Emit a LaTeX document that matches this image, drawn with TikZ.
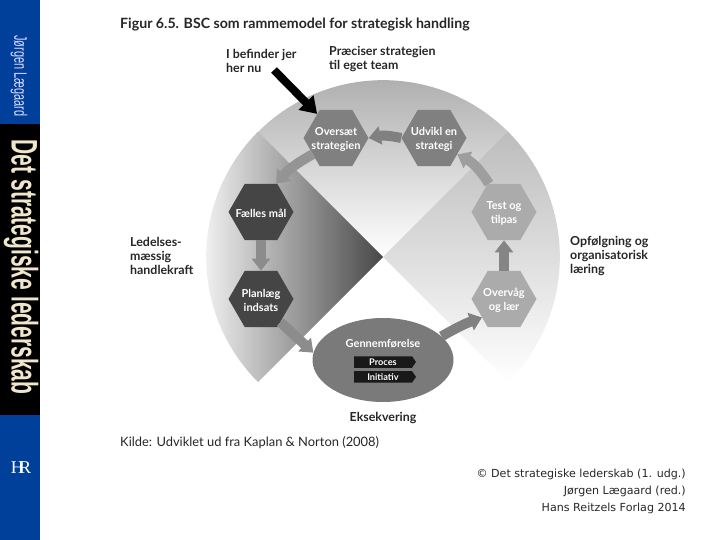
\documentclass[tikz,border=0pt]{standalone}
\usepackage{fontspec}
\setmainfont{Lato}
\newfontfamily\notefont{DejaVu Sans}
\newfontfamily\spinefont{Liberation Sans}
\newfontfamily\logofont{Liberation Serif}
\usepackage{xcolor}
\usetikzlibrary{positioning,arrows.meta,shapes.geometric,shapes.symbols}
\definecolor{spineblue}{HTML}{00409A}
\definecolor{spinecream}{HTML}{EFE6CC}
\tikzset{
  hexbox/.style ={regular polygon, regular polygon sides=6, minimum size=65pt, inner sep=0pt},
  hexmid/.style ={hexbox, fill=black!50},
  hexdark/.style={hexbox, fill=black!73},
  hexlite/.style={hexbox, fill=black!33},
  hextxt/.style ={align=center, text=white, inner sep=0pt, yshift=-1.5pt,
                  font=\fontsize{11}{13.5}\selectfont\bfseries},
  lab/.style    ={align=left, anchor=west, inner sep=0pt,
                  font=\fontsize{12.4}{14.3}\selectfont\bfseries, text=black!85},
  tag/.style    ={signal, signal to=east, signal pointer angle=110, fill=black!90,
                  text=white, inner sep=0pt, minimum width=62pt, minimum height=11.5pt,
                  font=\fontsize{9.2}{9}\selectfont\bfseries},
  flow/.style   ={-{Triangle[width=18pt,length=12pt]}, line width=10pt},
}
\begin{document}
\begin{tikzpicture}[x=1pt,y=-1pt]
  \useasboundingbox (0,0) rectangle (720,540);

  % book spine
  \fill[spineblue] (0,0) rectangle (40,540);
  \fill[black] (0,124) rectangle (40,415);
  \node[rotate=-90, text=spinecream, inner sep=0pt] (spinetitle) at (21,267)
       {\scalebox{0.568}[1]{\spinefont\bfseries\fontsize{37}{37}\selectfont Det strategiske lederskab}};
  \node[rotate=-90, text=white!85!blue, inner sep=0pt] (spineauthor) at (19,76)
       {\scalebox{0.61}[1]{\spinefont\fontsize{18}{18}\selectfont Jørgen Lægaard}};
  \node[text=white, inner sep=0pt] (logo) at (21,468)
       {\logofont\fontsize{18}{18}\selectfont H\kern-5pt R};

  % the three wedges
  \shade[top color=black!34, bottom color=white] (383,257) -- (258,132)
        arc[start angle=225, end angle=315, radius=177] -- cycle;
  \shade[left color=white, right color=black!72] (383,257) -- (258,382)
        arc[start angle=135, end angle=225, radius=177] -- cycle;
  \shade[top color=black!26, bottom color=white] (383,257) -- (508,382)
        arc[start angle=45, end angle=-45, radius=177] -- cycle;

  % steps
  \node[hexmid, label={[hextxt]center:Oversæt\\strategien}] (oversaet) at (336,138) {};
  \node[hexmid, label={[hextxt]center:Udvikl en\\strategi}] (udvikl) at (434,138) {};
  \node[hexlite, label={[hextxt]center:Test og\\tilpas}] (test) at (504,212) {};
  \node[hexdark, label={[hextxt]center:Fælles mål}] (faelles) at (261,212) {};
  \node[hexdark, label={[hextxt]center:Planlæg\\indsats}] (planlaeg) at (261,299) {};
  \node[hexlite, label={[hextxt]center:Overvåg\\og lær}] (overvaag) at (504,299) {};
  \node[ellipse, fill=black!52, minimum width=141pt, minimum height=84pt, inner sep=0pt]
       (gennem) at (383,360) {};
  \node[text=white, font=\fontsize{11}{11}\selectfont\bfseries] (gennemtxt) at (383,344) {Gennemførelse};
  \node[tag] (proces) at (383,362) {Proces};
  \node[tag, below=3pt of proces] (initiativ) {Initiativ};

  % labels
  \node[lab, font=\fontsize{14.15}{14}\selectfont\bfseries] (title) at (120,25)
       {Figur 6.5. BSC som rammemodel for strategisk handling};
  \node[lab] (befinder) at (226,61) {I befinder jer\\her nu};
  \node[lab] (praeciser) at (329,59) {Præciser strategien\\til eget team};
  \node[lab] (ledelse) at (130,256) {Ledelses-\\mæssig\\handlekraft};
  \node[lab] (opfolg) at (570,256) {Opfølgning og\\organisatorisk\\læring};
  \node[lab, anchor=center] (eksek) at (383,418) {Eksekvering};
  \node[lab, font=\fontsize{12.9}{12.9}\selectfont] (kilde) at (120,443)
       {Kilde: Udviklet ud fra Kaplan \& Norton (2008)};
  \node[align=right, anchor=east, inner sep=0pt, text=black!85,
        font=\notefont\fontsize{11.1}{17}\selectfont] (credit) at (686,491)
       {© Det strategiske lederskab (1. udg.)\\Jørgen Lægaard (red.)\\Hans Reitzels Forlag 2014};

  % arrows
  \coordinate (pointer) at (274,70);
  \draw[flow, black!50] (udvikl.180) to[bend right=12] (oversaet.0);
  \draw[flow, black!42] (oversaet.215) to[bend right=10] (faelles.62);
  \draw[flow, black!45] (faelles) -- (planlaeg);
  \draw[flow, black!45] (planlaeg.-50) -- (gennem.174);
  \draw[flow, black!50] (gennem.22) to[bend left=5] (overvaag.220);
  \draw[flow, black!48] (overvaag) -- (test);
  \draw[flow, black!38] (test.118) to[bend right=15] (udvikl.-35);
  \draw[-{Triangle[width=20pt,length=16pt]}, line width=8pt, black] (pointer) -- (oversaet.128);
\end{tikzpicture}
\end{document}
